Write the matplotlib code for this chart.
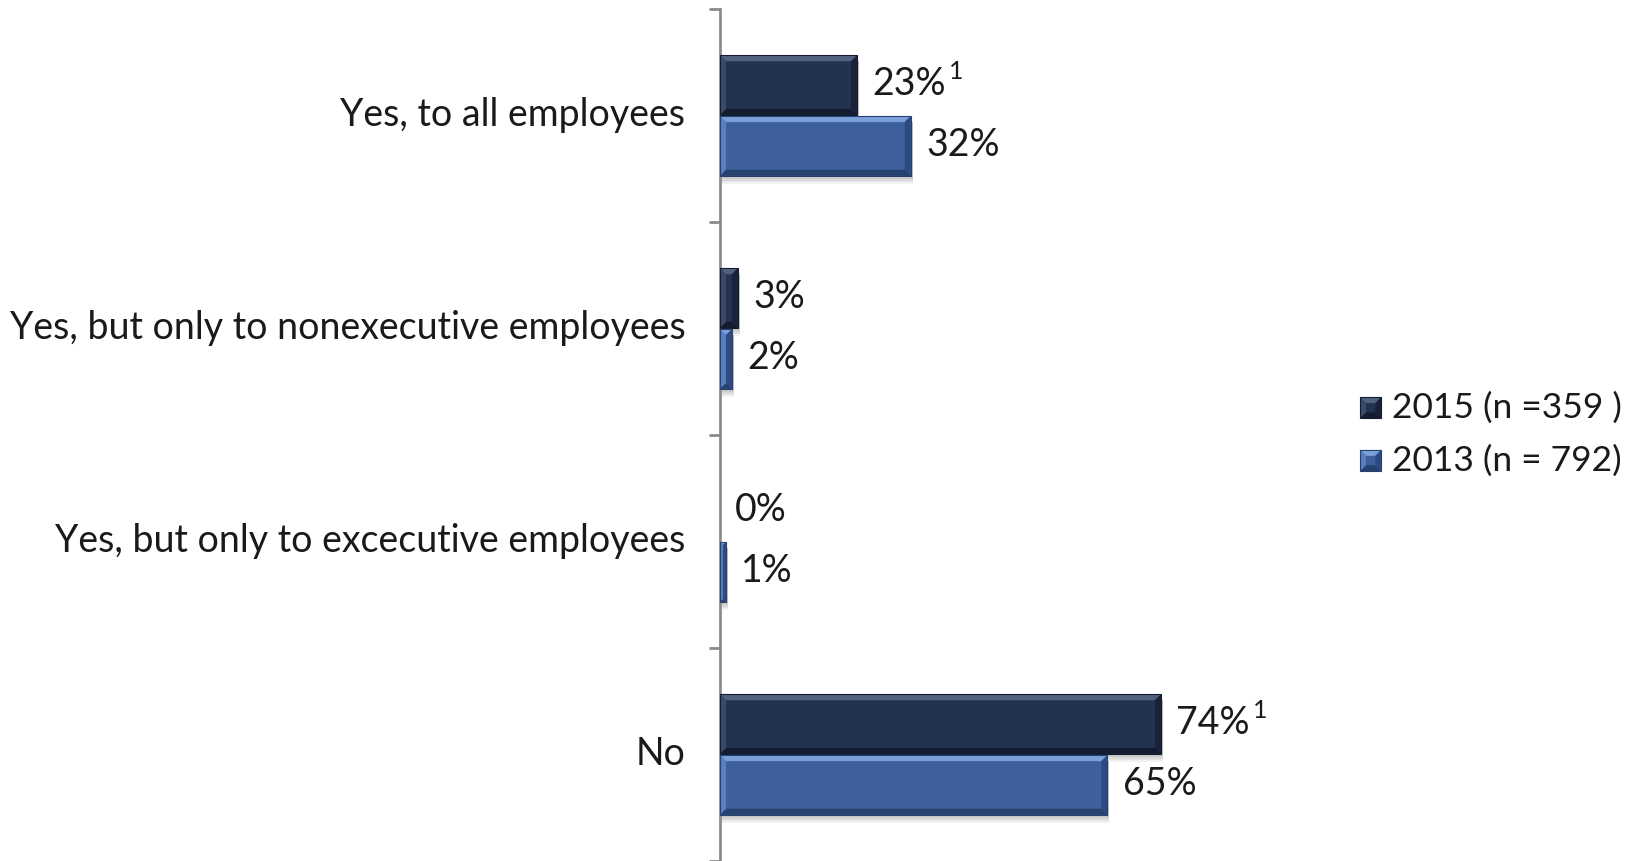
import numpy as np
import matplotlib.pyplot as plt
import matplotlib.transforms as mtransforms
from matplotlib.patches import Polygon, Rectangle
from matplotlib.legend_handler import HandlerBase

plt.rcParams["font.family"] = ["Lato", "DejaVu Sans"]

categories = [
    "Yes, to all employees",
    "Yes, but only to nonexecutive employees",
    "Yes, but only to excecutive employees",
    "No",
]
pct_2015 = [23, 3, 0, 74]
pct_2013 = [32, 2, 1, 65]
note_2015 = ["1", "", "", "1"]
note_2013 = ["", "", "", ""]
series_names = ["2015 (n =359 )", "2013 (n = 792)"]

# face, top, bottom, left, right
STYLE_2015 = dict(face="#22324f", top="#51617f", bottom="#141d30", left="#3a4a68", right="#18223a")
STYLE_2013 = dict(face="#3d5f9c", top="#7aa0da", bottom="#27416f", left="#5a7fc0", right="#2c4b82")

FS = 27
TXT = "#1a1a1a"
BAR_H = 0.28
OFF = 0.143

fig = plt.figure(figsize=(16.34, 8.61), dpi=100)
ax = fig.add_axes([720 / 1634, 0, 596 / 1634, 852 / 861])
ax.set_xlim(0, 100)
ax.set_ylim(3.5, -0.5)

y = np.arange(len(categories))


def to_px(x, yy):
    return ax.transData.transform((x, yy))


def to_data(pts):
    return ax.transData.inverted().transform(pts)


def bevel_bar(p, st, b=6):
    x0, y0, w, h = p.get_x(), p.get_y(), p.get_width(), p.get_height()
    if w <= 0:
        return
    (X0, Y0), (X1, Y1) = to_px(x0, y0), to_px(x0 + w, y0 + h)
    L, R = min(X0, X1), max(X0, X1)
    B, T = min(Y0, Y1), max(Y0, Y1)
    bb = min(b, (R - L) / 2, (T - B) / 2)
    # soft shadow under the bar
    for k in range(1, 6):
        sh = to_data([(L + 2, B - k * 1.6), (R + 2, T - 6)])
        ax.add_patch(Rectangle((sh[0][0], sh[0][1]), sh[1][0] - sh[0][0], sh[1][1] - sh[0][1],
                               facecolor="#000000", alpha=0.05, lw=0, zorder=2))
    faces = [
        ([(L, T), (R, T), (R - bb, T - bb), (L + bb, T - bb)], st["top"]),
        ([(L, B), (R, B), (R - bb, B + bb), (L + bb, B + bb)], st["bottom"]),
        ([(L, B), (L, T), (L + bb, T - bb), (L + bb, B + bb)], st["left"]),
        ([(R, B), (R, T), (R - bb, T - bb), (R - bb, B + bb)], st["right"]),
    ]
    for pts, c in faces:
        ax.add_patch(Polygon(to_data(pts), closed=True, facecolor=c, lw=0, zorder=4))
    o = to_data([(L, B), (R, T)])
    ax.add_patch(Rectangle((o[0][0], o[0][1]), o[1][0] - o[0][0], o[1][1] - o[0][1],
                           fill=False, edgecolor=st["bottom"], lw=0.8, zorder=5))


bars15 = ax.barh(y - OFF, pct_2015, height=BAR_H, color=STYLE_2015["face"], lw=0, zorder=3)
bars13 = ax.barh(y + OFF, pct_2013, height=BAR_H, color=STYLE_2013["face"], lw=0, zorder=3)

for bars, vals, notes, st, dy in [(bars15, pct_2015, note_2015, STYLE_2015, -OFF),
                                   (bars13, pct_2013, note_2013, STYLE_2013, OFF)]:
    for p, v, n, yi in zip(bars, vals, notes, y):
        bevel_bar(p, st)
        t = ax.annotate(f"{v}%", xy=(v, yi + dy), xytext=(11, 1), textcoords="offset points",
                        ha="left", va="center", fontsize=FS, color=TXT)
        if n:
            ax.annotate(n, xy=(1, 1), xycoords=t, xytext=(2, 4), textcoords="offset points",
                        ha="left", va="top", fontsize=FS * 0.66, color=TXT)

ax.set_yticks(y)
ax.set_yticklabels(categories, fontsize=FS, color=TXT)
ax.set_yticks(np.arange(-0.5, len(categories)), minor=True)
ax.tick_params(axis="y", which="major", length=0, pad=25)
ax.tick_params(axis="y", which="minor", length=8, width=2, color="#8c8c8c")
ax.set_xticks([])
# nudge category labels up a touch
lift = mtransforms.ScaledTranslation(0, 3 / 72, fig.dpi_scale_trans)
for lbl in ax.get_yticklabels():
    lbl.set_transform(lbl.get_transform() + lift)
for s in ["top", "right", "bottom"]:
    ax.spines[s].set_visible(False)
ax.spines["left"].set_color("#8c8c8c")
ax.spines["left"].set_linewidth(2)


class BevelSquare(HandlerBase):
    def __init__(self, st):
        super().__init__()
        self.st = st

    def create_artists(self, legend, orig, xd, yd, w, h, fs, trans):
        s = min(w, h)
        L, B = xd + (w - s) / 2, yd + (h - s) / 2
        R, T = L + s, B + s
        b = s * 0.28
        st = self.st
        arts = [Rectangle((L, B), s, s, facecolor=st["face"], lw=0, transform=trans)]
        for pts, c in [([(L, T), (R, T), (R - b, T - b), (L + b, T - b)], st["top"]),
                       ([(L, B), (R, B), (R - b, B + b), (L + b, B + b)], st["bottom"]),
                       ([(L, B), (L, T), (L + b, T - b), (L + b, B + b)], st["left"]),
                       ([(R, B), (R, T), (R - b, T - b), (R - b, B + b)], st["right"])]:
            arts.append(Polygon(pts, closed=True, facecolor=c, lw=0, transform=trans))
        arts.append(Rectangle((L, B), s, s, fill=False, edgecolor=st["bottom"], lw=0.8, transform=trans))
        return arts


handles = [bars15, bars13]
leg = fig.legend(handles, series_names, loc="center left", bbox_to_anchor=(1360 / 1634, 1 - 434 / 861),
                 frameon=False, fontsize=25.5, handlelength=0.6, handleheight=0.6, handletextpad=0.3,
                 labelspacing=0.58, borderpad=0, borderaxespad=0,
                 handler_map={bars15: BevelSquare(STYLE_2015), bars13: BevelSquare(STYLE_2013)})
for t in leg.get_texts():
    t.set_color(TXT)

fig.savefig("out.png", dpi=100)
